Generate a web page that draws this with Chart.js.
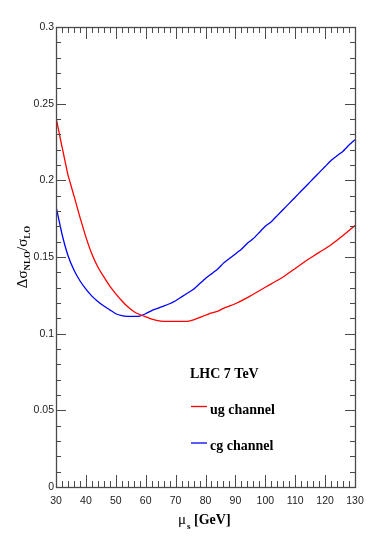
<!DOCTYPE html>
<html>
<head>
<meta charset="utf-8">
<script src="https://cdn.jsdelivr.net/npm/chart.js@4"></script>
<style>
  html, body { margin: 0; padding: 0; background: #fff; }
</style>
</head>
<body>
<canvas id="chart" width="374" height="542"></canvas>
<script>
// mu_s values (GeV) and Delta sigma_NLO / sigma_LO
const muUg = [30, 32, 34, 36, 38, 40, 42, 44, 46, 48, 50, 52, 54, 56, 58, 60, 62, 64, 66, 70, 74, 76, 78, 80, 82, 84, 86, 88, 90, 94, 98, 102, 106, 110, 114, 118, 122, 126, 130];
const ugValues = [0.241, 0.222, 0.2035, 0.19, 0.176, 0.163, 0.152, 0.1435, 0.137, 0.131, 0.126, 0.1215, 0.1175, 0.1145, 0.1125, 0.111, 0.1095, 0.1085, 0.108, 0.108, 0.108, 0.109, 0.1105, 0.112, 0.1135, 0.1145, 0.1165, 0.118, 0.1195, 0.1235, 0.128, 0.1325, 0.137, 0.1425, 0.148, 0.153, 0.158, 0.164, 0.1705];

const muCg = [30, 32, 34, 36, 38, 40, 42, 44, 46, 48, 50, 52, 54, 56, 58, 60, 62, 64, 66, 68, 70, 72, 74, 76, 78, 80, 82, 84, 86, 88, 90, 92, 94, 96, 98, 100, 102, 104, 106, 108, 110, 112, 114, 116, 118, 120, 122, 124, 126, 128, 130];
const cgValues = [0.183, 0.165, 0.151, 0.1415, 0.1345, 0.129, 0.1245, 0.121, 0.118, 0.1155, 0.113, 0.1118, 0.1113, 0.1113, 0.1115, 0.113, 0.115, 0.1165, 0.118, 0.1195, 0.1215, 0.124, 0.1265, 0.129, 0.1325, 0.136, 0.139, 0.142, 0.146, 0.149, 0.152, 0.155, 0.159, 0.162, 0.166, 0.170, 0.173, 0.177, 0.181, 0.185, 0.189, 0.193, 0.197, 0.201, 0.205, 0.209, 0.213, 0.216, 0.219, 0.223, 0.2265];

const xTicks = [30, 40, 50, 60, 70, 80, 90, 100, 110, 120, 130];
const yTicks = [0, 0.05, 0.1, 0.15, 0.2, 0.25, 0.3];

const seriesNames = ['ug channel', 'cg channel'];
const seriesColors = ['#ff0000', '#0000ff'];
const boxTitle = 'LHC 7 TeV';

const toPoints = (xs, ys) => xs.map((x, i) => ({ x: x, y: ys[i] }));

const axisColor = '#4a4a4a';

// inside tick marks on all four sides + frame
const frameTicks = {
  id: 'frameTicks',
  afterDatasetsDraw(chart) {
    const ctx = chart.ctx;
    const a = chart.chartArea;
    const xs = chart.scales.x, ys = chart.scales.y;
    ctx.save();
    ctx.strokeStyle = axisColor;
    ctx.lineWidth = 1;
    ctx.beginPath();
    for (let v = 30; v <= 130; v += 2) {
      const px = Math.round(xs.getPixelForValue(v)) + 0.5;
      const len = (v % 10 === 0) ? 12 : 6;
      ctx.moveTo(px, a.bottom); ctx.lineTo(px, a.bottom - len);
      ctx.moveTo(px, a.top); ctx.lineTo(px, a.top + len);
    }
    for (let k = 0; k <= 30; k++) {
      const py = Math.round(ys.getPixelForValue(k / 100)) + 0.5;
      const len = (k % 5 === 0) ? 10 : 5;
      ctx.moveTo(a.left, py); ctx.lineTo(a.left + len, py);
      ctx.moveTo(a.right, py); ctx.lineTo(a.right - len, py);
    }
    ctx.stroke();
    ctx.lineWidth = 1.3;
    ctx.strokeRect(Math.round(a.left) + 0.5, Math.round(a.top) + 0.5,
      Math.round(a.right - a.left), Math.round(a.bottom - a.top));
    ctx.restore();
  }
};

// axis titles with sub-scripts and the text box legend
const labelsPlugin = {
  id: 'labels',
  afterDraw(chart) {
    const ctx = chart.ctx;
    ctx.save();
    ctx.fillStyle = '#000';
    ctx.textBaseline = 'alphabetic';
    ctx.textAlign = 'left';

    // x title: mu_s [GeV]
    const big = '15px "Liberation Serif"';
    const sub = 'bold 9px "Liberation Serif"';
    const bold = 'bold 14px "Liberation Serif"';
    let x = 178, base = 524;
    ctx.font = big; ctx.fillText('\u03bc', x, base); x += ctx.measureText('\u03bc').width + 1;
    ctx.font = sub; ctx.fillText('s', x, base + 5); x += ctx.measureText('s').width + 3.5;
    ctx.font = bold; ctx.fillText('[GeV]', x, base);

    // y title: Delta sigma_NLO / sigma_LO
    const parts = [['\u0394\u03c3', big, 0], ['NLO', sub, 3], ['/\u03c3', big, 0], ['LO', sub, 3]];
    let total = 0;
    parts.forEach(p => { ctx.font = p[1]; total += ctx.measureText(p[0]).width; });
    ctx.translate(27, 257);
    ctx.rotate(-Math.PI / 2);
    let t = -total / 2;
    parts.forEach(p => {
      ctx.font = p[1];
      ctx.fillText(p[0], t, p[2]);
      t += ctx.measureText(p[0]).width;
    });
    ctx.setTransform(1, 0, 0, 1, 0, 0);

    // legend box
    ctx.font = bold;
    ctx.fillText(boxTitle, 190, 378);
    chart.data.datasets.forEach((ds, i) => {
      const ly = 406.5 + i * 36.5;
      ctx.strokeStyle = ds.borderColor;
      ctx.lineWidth = 1.3;
      ctx.beginPath();
      ctx.moveTo(191, ly); ctx.lineTo(207, ly);
      ctx.stroke();
      ctx.fillText(ds.label, 210, ly + 7);
    });
    ctx.restore();
  }
};

new Chart(document.getElementById('chart').getContext('2d'), {
  type: 'line',
  data: {
    datasets: [
      { label: seriesNames[0], data: toPoints(muUg, ugValues), borderColor: seriesColors[0], borderWidth: 1.3, pointRadius: 0, tension: 0.1, fill: false },
      { label: seriesNames[1], data: toPoints(muCg, cgValues), borderColor: seriesColors[1], borderWidth: 1.3, pointRadius: 0, tension: 0.1, fill: false }
    ]
  },
  options: {
    responsive: false,
    animation: false,
    layout: { padding: { top: 27, right: 19, left: 0, bottom: 0 } },
    plugins: { legend: { display: false }, tooltip: { enabled: false } },
    scales: {
      x: {
        type: 'linear', min: 30, max: 130,
        afterBuildTicks: s => { s.ticks = xTicks.map(v => ({ value: v })); },
        afterFit: s => { s.height = 55; },
        grid: { display: false, drawTicks: false },
        border: { display: false },
        ticks: { color: '#222', padding: 8, maxRotation: 0, font: { family: '"Liberation Sans"', size: 10.5 } }
      },
      y: {
        min: 0, max: 0.3,
        afterBuildTicks: s => { s.ticks = yTicks.map(v => ({ value: v })); },
        afterFit: s => { s.width = 56; },
        grid: { display: false, drawTicks: false },
        border: { display: false },
        ticks: { color: '#222', padding: 2, font: { family: '"Liberation Sans"', size: 10.5 },
          callback: v => String(+v.toFixed(2)) }
      }
    }
  },
  plugins: [frameTicks, labelsPlugin]
});
</script>
</body>
</html>
